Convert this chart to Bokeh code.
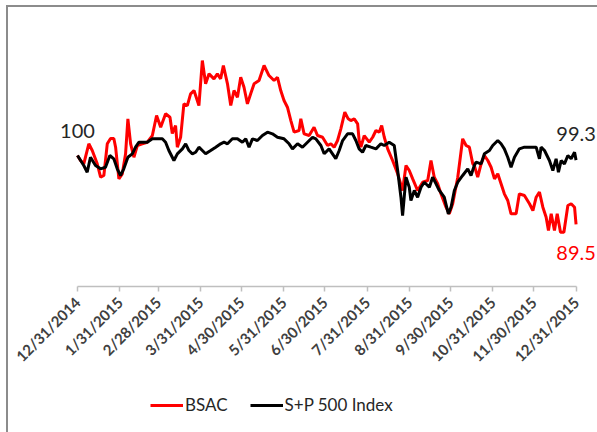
import pandas as pd
from math import pi
from bokeh.plotting import figure
from bokeh.layouts import column
from bokeh.models import FixedTicker, Legend, LegendItem, Label
from bokeh.embed import file_html
from bokeh.resources import INLINE

start_date = "12/31/2014"
tick_labels = ["12/31/2014", "1/31/2015", "2/28/2015", "3/31/2015", "4/30/2015",
               "5/31/2015", "6/30/2015", "7/31/2015", "8/31/2015", "9/30/2015",
               "10/31/2015", "11/30/2015", "12/31/2015"]

# days since 12/31/2014, values indexed to 100
bsac_days = [0, 2.2, 4.6, 8.3, 10.8, 14.4, 16.9, 19.3, 21.8, 24.2, 26.6, 27.9, 30.3, 32.8,
             35.2, 36.9, 38.9, 41.3, 43.8, 47.4, 51.1, 54.8, 57.9, 60.9, 64.5, 67.7, 69.4,
             71.8, 73.1, 75.5, 77.9, 80.4, 82.8, 85.3, 88.9, 91.4, 93.8, 96.3, 99.9, 102.4,
             104.8, 106.8, 109.8, 112.2, 114.6, 117.1, 119.5, 121.9, 124.4, 126.8, 129.3,
             132.9, 136.6, 140.2, 143.9, 146.4, 148.8, 151.2, 153.7, 156.2, 158.6, 162.2,
             163.5, 165.9, 169.6, 173.2, 175.7, 179.4, 183.1, 185.5, 187.9, 190.4, 192.8,
             195.7, 198.2, 200.1, 202.6, 205.1, 206.2, 207.5, 209.9, 213.6, 216.1, 218.5,
             220.9, 222.7, 224.6, 227.1, 230.7, 234.4, 238.0, 240.5, 242.9, 245.4, 249.0,
             252.7, 256.4, 258.8, 261.2, 263.7, 266.1, 269.8, 272.2, 274.7, 278.4, 282.0,
             284.5, 286.9, 289.4, 290.5, 293.0, 295.5, 297.9, 300.4, 302.8, 305.3, 307.7,
             310.1, 312.5, 315.0, 317.4, 321.1, 323.5, 327.2, 330.9, 333.4, 335.8, 338.2,
             340.7, 343.1, 344.8, 346.8, 349.2, 351.2, 353.6, 356.1, 359.0, 361.4, 363.9, 365]
bsac_values = [100.0, 99.24, 98.73, 101.79, 100.76, 98.78, 96.69, 96.95, 101.79, 102.60,
               102.60, 101.27, 96.44, 97.21, 100.26, 105.60, 101.79, 99.74, 101.53, 101.79,
               102.03, 103.05, 106.11, 104.32, 106.37, 105.85, 103.36, 104.58, 101.27,
               102.79, 107.89, 107.63, 109.42, 109.92, 107.63, 114.50, 110.95, 112.47,
               111.71, 112.47, 111.71, 113.74, 110.95, 107.63, 109.92, 108.90, 111.95,
               110.43, 107.89, 109.42, 110.95, 111.45, 113.74, 112.21, 111.45, 111.95,
               109.92, 108.40, 107.37, 105.34, 103.56, 103.82, 105.60, 103.31, 103.05,
               104.32, 103.05, 102.79, 101.53, 101.79, 101.27, 102.29, 104.08, 106.61,
               105.60, 105.34, 105.60, 104.84, 102.29, 101.27, 103.05, 102.03, 102.79,
               103.82, 103.56, 104.58, 102.79, 101.02, 99.24, 97.21, 94.66, 98.47, 97.71,
               96.44, 94.66, 95.92, 96.18, 99.24, 96.69, 95.68, 94.15, 92.11, 91.10, 92.63,
               96.69, 102.55, 101.53, 101.27, 98.73, 98.47, 96.69, 98.73, 100.0, 99.24,
               98.21, 96.44, 97.21, 95.68, 94.15, 93.13, 91.10, 91.10, 94.15, 93.89, 92.63,
               91.60, 93.63, 94.40, 92.11, 90.58, 88.55, 91.10, 88.55, 91.10, 88.29, 88.29,
               92.37, 92.63, 92.11, 89.5]

spx_days = [0, 4.6, 7.1, 9.5, 13.2, 16.9, 20.5, 23.7, 26.6, 29.1, 31.5, 33.9, 36.9, 40.1,
            42.5, 44.9, 51.1, 54.8, 58.4, 62.1, 64.5, 66.9, 70.6, 73.1, 76.8, 79.2, 81.6,
            84.1, 86.5, 88.9, 91.4, 93.8, 97.5, 101.2, 104.8, 107.3, 109.8, 113.4, 117.1,
            120.7, 123.2, 125.6, 128.1, 131.7, 135.4, 139.1, 142.7, 146.4, 151.2, 154.9,
            157.4, 161.1, 164.7, 168.4, 172.1, 174.5, 178.2, 180.6, 184.2, 186.7, 189.1,
            191.6, 194.1, 197.7, 201.4, 203.8, 206.2, 208.7, 211.1, 214.8, 218.5, 222.1,
            224.6, 228.2, 231.9, 234.4, 236.8, 238.0, 239.2, 240.5, 242.9, 244.1, 246.6,
            249.0, 251.5, 253.9, 257.6, 260.0, 262.5, 264.9, 268.5, 271.5, 273.5, 275.9,
            278.4, 282.0, 285.7, 288.1, 290.5, 291.8, 295.5, 297.9, 301.6, 304.0, 307.7,
            310.1, 312.5, 315.0, 317.4, 319.9, 323.5, 327.2, 332.1, 335.8, 338.2, 339.4,
            341.9, 345.5, 348.0, 350.4, 352.1, 354.1, 356.5, 359.0, 361.4, 363.9, 365]
spx_values = [100.0, 98.47, 97.45, 99.74, 98.47, 97.97, 98.21, 100.0, 99.50, 97.97, 96.95,
              97.97, 99.74, 100.26, 101.27, 102.03, 102.03, 102.55, 102.55, 102.55, 102.03,
              100.76, 99.24, 100.26, 101.02, 101.79, 100.76, 100.26, 100.50, 101.27, 100.76,
              100.26, 100.76, 101.27, 101.79, 102.03, 101.79, 102.55, 102.55, 102.03, 102.55,
              101.27, 102.55, 102.29, 103.05, 103.56, 103.31, 102.79, 102.55, 101.79, 101.02,
              101.79, 101.27, 102.03, 102.79, 102.55, 101.53, 100.26, 101.02, 100.26, 99.50,
              100.76, 102.29, 103.31, 103.31, 102.29, 101.02, 100.50, 101.53, 101.27, 101.02,
              101.79, 101.53, 102.03, 101.53, 97.71, 93.63, 90.84, 93.63, 96.69, 95.16, 93.13,
              94.66, 93.63, 95.16, 95.92, 95.16, 96.69, 95.68, 94.66, 93.63, 91.10, 92.11,
              94.66, 95.92, 96.95, 97.97, 96.95, 98.47, 98.98, 98.73, 100.26, 100.76, 101.53,
              102.29, 101.79, 101.02, 99.74, 98.21, 99.74, 101.02, 101.27, 101.27, 101.27,
              99.50, 101.27, 100.76, 99.24, 97.71, 99.50, 97.45, 99.24, 98.73, 100.0, 99.50,
              100.50, 99.3]

series_names = ["BSAC", "S+P 500 Index"]
series_colors = ["#FF0000", "#000000"]

t0 = pd.to_datetime(start_date)
tick_pos = [(pd.to_datetime(t) - t0).days for t in tick_labels]

lab_font = "Lato"

# ---- main chart ----
p = figure(width=589, height=379, output_backend="svg", toolbar_location=None,
           x_range=(-16.1, 380.7), y_range=(80.0, 122.6),
           y_axis_location=None, min_border_left=47, min_border_right=0,
           min_border_top=0, min_border_bottom=100)
p.outline_line_color = None
p.grid.visible = False
p.background_fill_color = "white"
p.border_fill_color = "white"

p.line(bsac_days, bsac_values, line_color=series_colors[0], line_width=3)
p.line(spx_days, spx_values, line_color=series_colors[1], line_width=3)

ax = p.xaxis[0]
ax.ticker = FixedTicker(ticks=tick_pos)
ax.bounds = (tick_pos[0], tick_pos[-1])
ax.major_label_overrides = {tp: lbl for tp, lbl in zip(tick_pos, tick_labels)}
ax.major_label_orientation = pi / 4
ax.major_label_text_font = lab_font
ax.major_label_text_font_style = "bold"
ax.major_label_text_font_size = "15px"
ax.major_label_text_color = "#404040"
ax.axis_line_color = "#BFBFBF"
ax.axis_line_width = 1.5
ax.major_tick_line_color = "#BFBFBF"
ax.major_tick_line_width = 1.5
ax.major_tick_in = 0
ax.major_tick_out = 5
ax.minor_tick_line_color = None
ax.major_label_standoff = 8

p.add_layout(Label(x=spx_days[0], y=spx_values[0], text=f"{spx_values[0]:g}",
                   text_font=lab_font, text_font_size="20px", text_color="#262626",
                   text_align="center", text_baseline="middle", y_offset=25))
p.add_layout(Label(x=spx_days[-1], y=spx_values[-1], text=f"{spx_values[-1]:g}",
                   text_font=lab_font, text_font_size="20px", text_color="#262626",
                   text_align="center", text_baseline="middle", y_offset=26))
p.add_layout(Label(x=bsac_days[-1], y=bsac_values[-1], text=f"{bsac_values[-1]:g}",
                   text_font=lab_font, text_font_size="20px", text_color="#FF0000",
                   text_align="center", text_baseline="middle", y_offset=-29))

# ---- legend strip (same series, drawn outside its visible window) ----
pl = figure(width=589, height=46, output_backend="svg", toolbar_location=None,
            x_range=(0, 1), y_range=(0, 1),
            x_axis_location=None, y_axis_location=None,
            min_border_left=0, min_border_right=0, min_border_top=0, min_border_bottom=0)
pl.outline_line_color = None
pl.grid.visible = False
pl.border_fill_color = "white"
lr_bsac = pl.line(bsac_days, bsac_values, line_color=series_colors[0], line_width=3)
lr_spx = pl.line(spx_days, spx_values, line_color=series_colors[1], line_width=3)

legend = Legend(items=[LegendItem(label=series_names[0], renderers=[lr_bsac]),
                       LegendItem(label=series_names[1], renderers=[lr_spx])],
                orientation="horizontal", location=(95, 17),
                border_line_color=None, background_fill_alpha=0,
                padding=0, margin=0, glyph_width=33, glyph_height=18,
                label_standoff=2, spacing=22, label_text_font=lab_font,
                label_text_font_size="17px", label_text_color="#262626")
pl.add_layout(legend, "center")

layout = column(p, pl, spacing=0,
                styles={"margin-left": "6px", "margin-top": "5px",
                        "border-left": "2px solid #8c8c8c", "border-top": "2px solid #8c8c8c"})

open("out.html", "w").write(file_html(layout, INLINE))
